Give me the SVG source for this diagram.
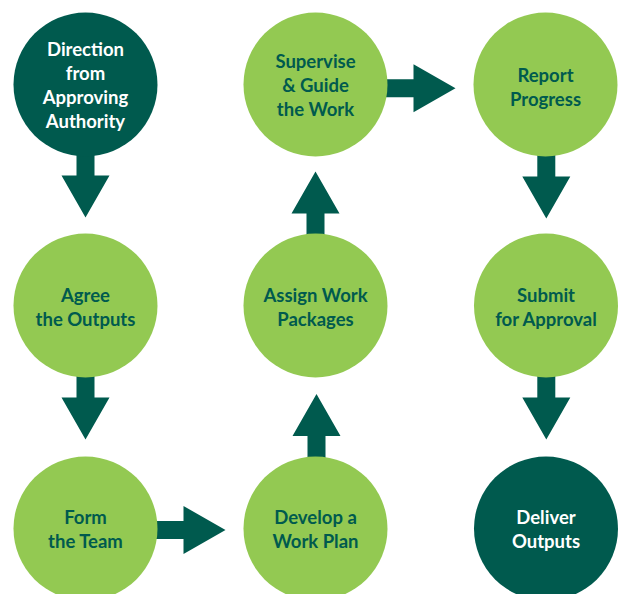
<svg xmlns="http://www.w3.org/2000/svg" xmlns:xlink="http://www.w3.org/1999/xlink" width="619" height="594" viewBox="0 0 619 594">
<style>
.light{fill:#93c952}
.dark{fill:#005a4e}
.arrow{fill:#005a4e}
text{font-family:Lato,"Liberation Sans",sans-serif;font-weight:bold;font-size:18.5px;text-anchor:middle}
.tl{fill:#005a4e}
.td{fill:#ffffff}
</style>
<defs>
<path id="av" d="M-9,-6 L9,-6 L9,20 L24,20 L0,62 L-24,20 L-9,20 Z"/>
<path id="ah" d="M-6,-9 L26,-9 L26,-24 L68,0 L26,24 L26,9 L-6,9 Z"/>
</defs>
<g id="connectors" class="arrow">
<use xlink:href="#av" transform="translate(85.5,155.5)"/>
<use xlink:href="#av" transform="translate(85.5,377.5)"/>
<use xlink:href="#ah" transform="translate(157.5,530)"/>
<use xlink:href="#av" transform="translate(316.5,456) rotate(180)"/>
<use xlink:href="#av" transform="translate(315.5,233.5) rotate(180)"/>
<use xlink:href="#ah" transform="translate(387.5,88.3)"/>
<use xlink:href="#av" transform="translate(546.3,156.5)"/>
<use xlink:href="#av" transform="translate(546.3,377.5)"/>
</g>
<g id="direction">
<circle class="dark" cx="85.5" cy="84.5" r="72"/>
<text class="td" x="85.5" y="56">Direction</text>
<text class="td" x="85.5" y="80">from</text>
<text class="td" x="85.5" y="104">Approving</text>
<text class="td" x="85.5" y="128">Authority</text>
</g>
<g id="agree">
<circle class="light" cx="85.5" cy="305.5" r="72"/>
<text class="tl" x="85.5" y="301.5">Agree</text>
<text class="tl" x="85.5" y="325.5">the Outputs</text>
</g>
<g id="form">
<circle class="light" cx="85.5" cy="528.5" r="72"/>
<text class="tl" x="85.5" y="524">Form</text>
<text class="tl" x="85.5" y="548">the Team</text>
</g>
<g id="develop">
<circle class="light" cx="315.5" cy="528.5" r="72"/>
<text class="tl" x="315.5" y="524">Develop a</text>
<text class="tl" x="315.5" y="548">Work Plan</text>
</g>
<g id="assign">
<circle class="light" cx="315.5" cy="305.5" r="72"/>
<text class="tl" x="315.5" y="301.5">Assign Work</text>
<text class="tl" x="315.5" y="325.5">Packages</text>
</g>
<g id="supervise">
<circle class="light" cx="315.5" cy="84.5" r="72"/>
<text class="tl" x="315.5" y="67.5">Supervise</text>
<text class="tl" x="315.5" y="91.5">&amp; Guide</text>
<text class="tl" x="315.5" y="115.5">the Work</text>
</g>
<g id="report">
<circle class="light" cx="545.5" cy="84.5" r="72"/>
<text class="tl" x="545.5" y="81.5">Report</text>
<text class="tl" x="545.5" y="105.5">Progress</text>
</g>
<g id="submit">
<circle class="light" cx="546" cy="305.5" r="72"/>
<text class="tl" x="546" y="301.5">Submit</text>
<text class="tl" x="546" y="325.5">for Approval</text>
</g>
<g id="deliver">
<circle class="dark" cx="546" cy="528.5" r="72"/>
<text class="td" x="546" y="524">Deliver</text>
<text class="td" x="546" y="548">Outputs</text>
</g>
</svg>
